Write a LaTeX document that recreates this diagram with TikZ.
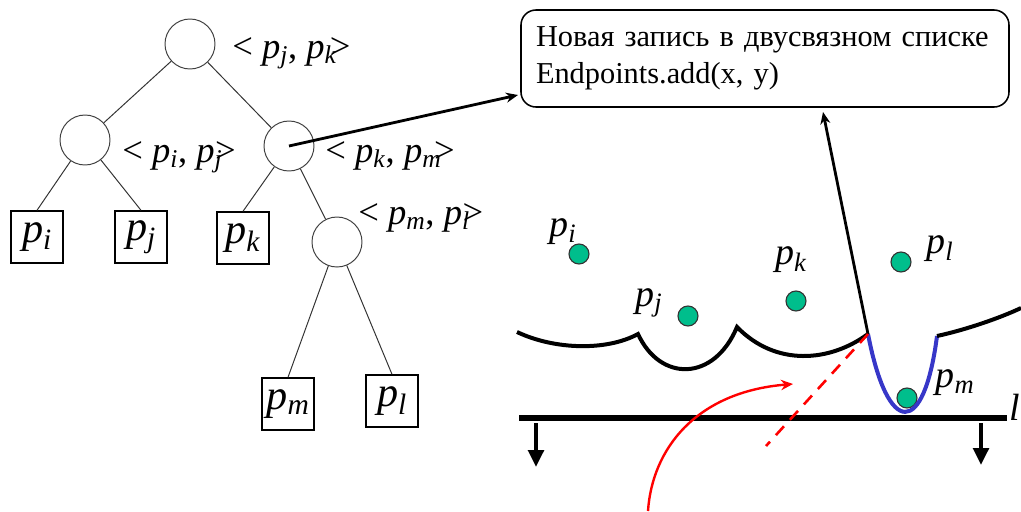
\documentclass[tikz,border=0pt]{standalone}
\usepackage{fontspec}
\setmainfont{Liberation Serif}
\usetikzlibrary{arrows.meta}

\definecolor{sitegreen}{RGB}{0,190,140}
\definecolor{arcblue}{RGB}{55,55,200}

\newcommand{\pnt}[1]{\textit{p}\textsubscript{\textit{#1}}}
\newcommand{\pair}[2]{\textless\ \pnt{#1}, \pnt{#2}\kern-0.2em\textgreater}

\tikzset{
    inner/.style={circle,draw=black!75,line width=0.7pt,minimum size=12.5mm,inner sep=0pt},
    leaf/.style={rectangle,draw,line width=1pt,minimum size=13mm,inner sep=0pt,
        font=\fontsize{30}{32}\selectfont},
    edge/.style={draw=black!80,line width=0.7pt},
    pairlbl/.style={anchor=base west,inner sep=0pt,font=\fontsize{26}{28}\selectfont},
    site/.style={circle,draw=black!80,fill=sitegreen,minimum size=5mm,inner sep=0pt,line width=0.8pt},
    sitelbl/.style={inner sep=0pt,font=\fontsize{27}{29}\selectfont},
    beach/.style={line width=1mm},
    pointer/.style={line width=2pt,-{Stealth[length=3mm,width=2.5mm]}},
    drop/.style={line width=1.2mm,-{Triangle[length=4.2mm,width=3.8mm]}},
}

\begin{document}
\begin{tikzpicture}[x=0.25mm,y=-0.25mm]
    \useasboundingbox (0,0) rectangle (1021,511);
    % tree of breakpoints
    \node[inner] (root) at (190,44) {};
    \node[inner] (nL) at (85,140) {};
    \node[inner] (nR) at (289,146) {};
    \node[inner] (nRR) at (337,242) {};
    \node[leaf] (li) at (37,237) {\pnt{i}};
    \node[leaf] (lj) at (141,237) {\pnt{j}};
    \node[leaf] (lk) at (243,238) {\pnt{k}};
    \node[leaf] (lm) at (288,404) {\pnt{m}};
    \node[leaf] (ll) at (392,401) {\pnt{l}};
    \draw[edge] (root) -- (nL);
    \draw[edge] (root) -- (nR);
    \draw[edge] (nL) -- (li.north);
    \draw[edge] (nL) -- (lj.north);
    \draw[edge] (nR) -- (lk.north);
    \draw[edge] (nR) -- (nRR);
    \draw[edge] (nRR) -- (lm.north);
    \draw[edge] (nRR) -- (ll.north);
    \node[pairlbl] (tRoot) at (232,58) {\pair{j}{k}};
    \node[pairlbl] (tL) at (122,162) {\pair{i}{j}};
    \node[pairlbl] (tR) at (325,162) {\pair{k}{m}};
    \node[pairlbl] (tRR) at (358,224) {\pair{m}{l}};

    % list entry
    \node[draw,line width=1.1pt,rounded corners=3.75mm,minimum width=122mm,minimum height=24.25mm,
        inner xsep=3.75mm,text width=114.5mm,align=left,
        font=\fontsize{21.6}{26}\selectfont] (rec) at (765,58.5)
        {Новая запись в двусвязном списке\\Endpoints.add(x, y)};
    \coordinate (tipA) at (518,95);
    \coordinate (tipB) at (823,112);
    \draw[pointer] (nR.center) -- (tipA);

    % sites
    \node[site] (si) at (579,254) {};
    \node[site] (sj) at (688,316) {};
    \node[site] (sk) at (796,301) {};
    \node[site] (sl) at (901,262) {};
    \node[site] (sm) at (907,398) {};
    \node[sitelbl] (lbi) at (563,232) {\pnt{i}};
    \node[sitelbl] (lbj) at (649,303) {\pnt{j}};
    \node[sitelbl] (lbk) at (791,260) {\pnt{k}};
    \node[sitelbl] (lbl) at (940,249) {\pnt{l}};
    \node[sitelbl] (lbm) at (955,383) {\pnt{m}};

    % beach line
    \coordinate (b0) at (517,332);
    \coordinate (c1) at (638,334);
    \coordinate (c2) at (737,327);
    \coordinate (c3) at (868,334);
    \coordinate (c4) at (937,336);
    \coordinate (b5) at (1021,308);
    \draw[beach] (b0) .. controls (555,350) and (607,351) .. (c1)
        .. controls (660,382) and (714,382) .. (c2)
        .. controls (776,367) and (830,362) .. (c3);
    \draw[beach,draw=arcblue] (c3) .. controls (888,438) and (924,437) .. (c4);
    \draw[beach] (c4) .. controls (965,330) and (1000,318) .. (b5);
    \draw[pointer] (c3) -- (tipB);

    % sweep line
    \coordinate (sL) at (519,418);
    \coordinate (sR) at (1007,418);
    \draw[line width=1.5mm] (sL) -- (sR);
    \node[sitelbl] (lbsweep) at (1015,407) {\textit{l}};
    \coordinate (dL0) at (536,423);
    \coordinate (dL1) at (536,467);
    \coordinate (dR0) at (981,423);
    \coordinate (dR1) at (981,465);
    \draw[drop] (dL0) -- (dL1);
    \draw[drop] (dR0) -- (dR1);

    % new breakpoint
    \coordinate (dashEnd) at (766,446);
    \coordinate (rs) at (648,511);
    \coordinate (re) at (793,384);
    \draw[red,line width=0.65mm,dash pattern=on 3mm off 2.2mm] (c3) -- (dashEnd);
    \draw[red,line width=0.6mm,-{Stealth[length=3mm,width=2.6mm]}] (rs)
        .. controls (652,450) and (695,392) .. (re);
\end{tikzpicture}
\end{document}
